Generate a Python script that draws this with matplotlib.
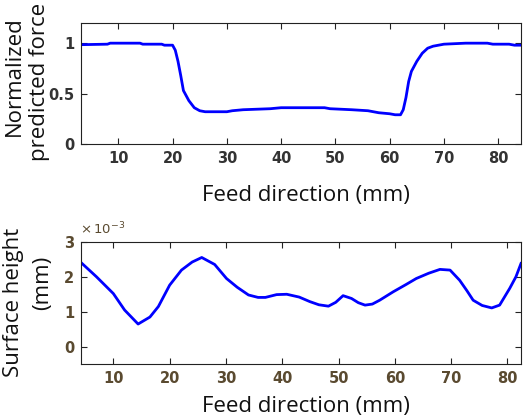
import numpy as np
import matplotlib
matplotlib.use('Agg')
import matplotlib.pyplot as plt

# top panel: normalized predicted force vs feed position
force_x = [3, 8, 8.5, 14, 14.5, 18, 18.5, 20, 20.5, 21, 21.5, 22, 23, 24, 25, 26,
           30, 31, 33, 38, 40, 48, 49, 53, 56, 58, 60, 61, 62, 62.5, 63, 63.5, 64,
           65, 66, 67, 68, 70, 74, 78, 79, 82, 83, 84]
force_y = [0.985, 0.99, 1.0, 1.0, 0.99, 0.99, 0.98, 0.98, 0.93, 0.82, 0.68, 0.53,
           0.43, 0.36, 0.33, 0.32, 0.32, 0.33, 0.34, 0.35, 0.36, 0.36, 0.35, 0.34,
           0.33, 0.31, 0.30, 0.29, 0.29, 0.34, 0.46, 0.62, 0.72, 0.82, 0.90, 0.95,
           0.97, 0.99, 1.0, 1.0, 0.99, 0.99, 0.98, 0.98]

# bottom panel: surface height (x 1e-3 mm)
surf_x = [4.3, 7, 10, 12, 14.4, 16.5, 18, 20, 22.1, 24, 25.7, 28, 30.1, 32, 34,
          35.7, 37, 39, 40.8, 43, 44.9, 46.5, 48.2, 49.5, 50.8, 52.3, 53.5, 54.7,
          56, 57.3, 59.7, 62, 63.8, 66, 68, 69.8, 71.5, 72.8, 73.9, 75.5, 77.2,
          78.6, 80.4, 81.5, 82.4]
surf_y = [2.4, 2.0, 1.52, 1.05, 0.65, 0.85, 1.15, 1.76, 2.19, 2.42, 2.55, 2.35,
          1.95, 1.7, 1.48, 1.41, 1.41, 1.49, 1.5, 1.42, 1.29, 1.2, 1.16, 1.27,
          1.46, 1.38, 1.26, 1.19, 1.22, 1.33, 1.57, 1.78, 1.95, 2.1, 2.21, 2.19,
          1.9, 1.6, 1.33, 1.18, 1.11, 1.19, 1.67, 2.0, 2.38]
surf_y = np.array(surf_y) * 1e-3

fig = plt.figure(figsize=(5.24, 4.19), dpi=100)

ax1 = fig.add_axes([0.1546, 0.6563, 0.8397, 0.2888])
ax2 = fig.add_axes([0.1546, 0.1305, 0.8397, 0.2926])

ax1.plot(force_x, force_y, color='#0000ff', lw=2.0)
ax1.set_xlim(3.13, 84.2)
ax1.set_ylim(0, 1.2)
ax1.set_xticks([10, 20, 30, 40, 50, 60, 70, 80])
ax1.set_yticks([0, 0.5, 1])
ax1.set_yticklabels(['0', '0.5', '1'])

ax2.plot(surf_x, surf_y, color='#0000ff', lw=2.0)
ax2.set_xlim(4.26, 82.4)
ax2.set_ylim(-0.5e-3, 3e-3)
ax2.set_xticks([10, 20, 30, 40, 50, 60, 70, 80])
ax2.set_yticks([0, 1e-3, 2e-3, 3e-3])
ax2.set_yticklabels(['0', '1', '2', '3'])

for ax, tc in [(ax1, '#333333'), (ax2, '#5a4a30')]:
    ax.tick_params(direction='in', top=True, right=True, length=4, width=0.8,
                   labelsize=10.5, colors='#222222', labelcolor=tc, pad=5)
    for lab in ax.get_xticklabels() + ax.get_yticklabels():
        lab.set_fontweight('bold')
        lab.set_family('Liberation Sans Narrow')
    for s in ax.spines.values():
        s.set_color('#222222')
        s.set_linewidth(0.8)

ax2.text(-0.002, 1.04, r'$\times\,\mathregular{10^{-3}}$', transform=ax2.transAxes,
         fontsize=9.5, color='#5a4a30', ha='left', va='bottom')

lab_font = dict(family='Open Sans', fontsize=16, color='#111111')
fig.text(0.584, 1 - 195 / 419, 'Feed direction (mm)', ha='center', va='center', **lab_font)
fig.text(0.584, 1 - 406 / 419, 'Feed direction (mm)', ha='center', va='center', **lab_font)
fig.text(14 / 524, 1 - 76 / 419, 'Normalized', ha='center', va='center',
         rotation=90, **lab_font)
fig.text(40 / 524, 1 - 82 / 419, 'predicted force', ha='center', va='center',
         rotation=90, **lab_font)
fig.text(14 / 524, 1 - 302 / 419, 'Surface height', ha='center', va='center',
         rotation=90, **lab_font)
fig.text(43 / 524, 1 - 283 / 419, '(mm)', ha='center', va='center',
         rotation=90, **lab_font)

fig.savefig('out.png', dpi=100)
